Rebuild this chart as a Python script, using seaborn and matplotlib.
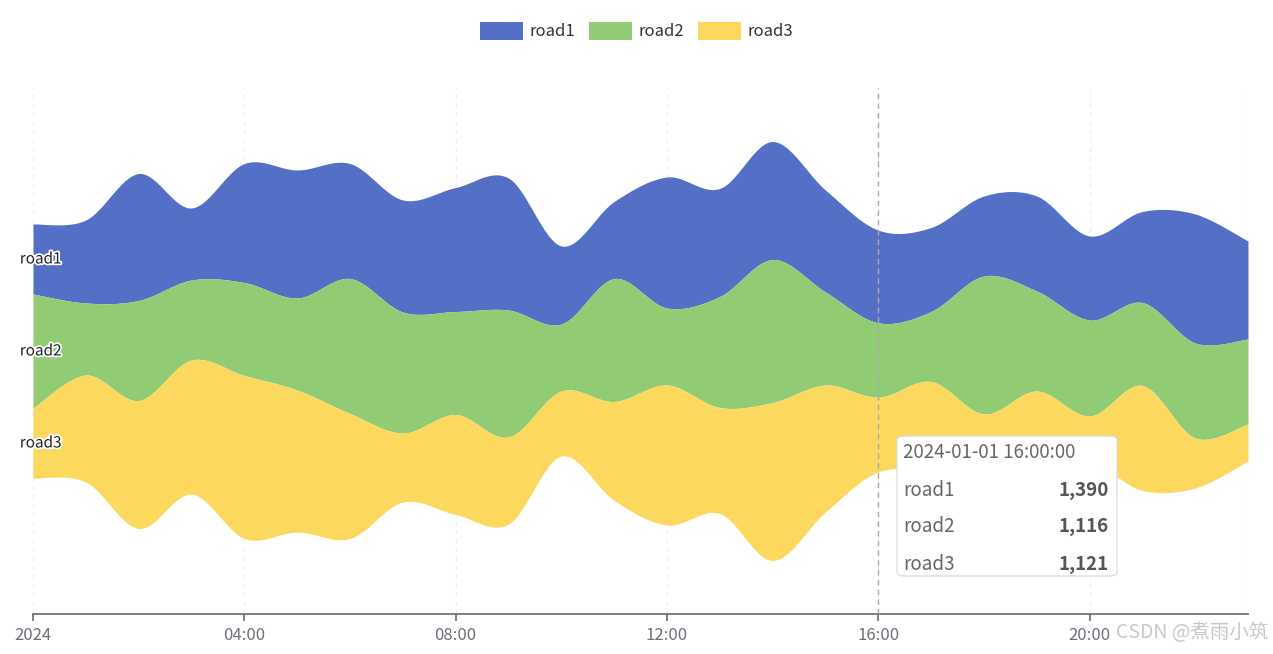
import numpy as np
import pandas as pd
import matplotlib.pyplot as plt
import seaborn as sns
from matplotlib.patches import Patch

sns.set_theme(style='white')
plt.rcParams['font.family'] = ['Noto Sans CJK SC', 'DejaVu Sans']

# 每小时数据 (2024-01-01 00:00 ~ 23:00)
hours = list(range(24))
road1 = [1050, 1245, 1905, 1080, 1785, 1920, 1725, 1680, 1860, 1980, 1170, 1155,
         1965, 1620, 1770, 1530, 1390, 1260, 1200, 1425, 1260, 1365, 1935, 1470]
road2 = [1710, 1080, 1500, 1200, 1395, 1380, 2025, 1815, 1545, 1905, 1005, 1845,
         1155, 1665, 2145, 1395, 1116, 1050, 2070, 1500, 1440, 1245, 1425, 1275]
road3 = [1050, 1605, 1920, 2010, 2445, 2130, 1875, 1035, 1500, 1305, 975, 1485,
         2100, 1590, 2370, 1905, 1121, 1395, 1380, 1725, 750, 1575, 750, 555]
series_names = ['road1', 'road2', 'road3']
colors = ['#5470c6', '#91cc75', '#fdd85e']
tick_hours = [0, 4, 8, 12, 16, 20]
tick_labels = ['2024', '04:00', '08:00', '12:00', '16:00', '20:00']

df = pd.DataFrame({'hour': hours, 'road1': road1, 'road2': road2, 'road3': road3})


def smooth(x, y, n=20):
    # Catmull-Rom 平滑
    x = np.asarray(x, float); y = np.asarray(y, float)
    px = np.concatenate([[x[0]], x, [x[-1]]])
    py = np.concatenate([[y[0]], y, [y[-1]]])
    xs, ys = [], []
    for i in range(1, len(px) - 2):
        t = np.linspace(0, 1, n, endpoint=False)
        for arr, out in ((px, xs), (py, ys)):
            p0, p1, p2, p3 = arr[i - 1], arr[i], arr[i + 1], arr[i + 2]
            out.append(0.5 * ((2 * p1) + (-p0 + p2) * t + (2 * p0 - 5 * p1 + 4 * p2 - p3) * t ** 2
                              + (-p0 + 3 * p1 - 3 * p2 + p3) * t ** 3))
    xs.append([x[-1]]); ys.append([y[-1]])
    return np.concatenate(xs), np.concatenate(ys)


vals = df[series_names].to_numpy(float)
total = vals.sum(axis=1)
top = total / 2
bounds = [top]
for k in range(3):
    bounds.append(bounds[-1] - vals[:, k])

fig = plt.figure(figsize=(12.73, 6.54), dpi=100)
ax = fig.add_axes([33 / 1273, 40 / 654, 1215 / 1273, 526 / 654])

for h in tick_hours + [23]:
    ax.axvline(h, color='#eeeeee', lw=0.8, ls=(0, (4, 4)), zorder=0)

for k in range(3):
    xs, yu = smooth(df['hour'], bounds[k])
    _, yl = smooth(df['hour'], bounds[k + 1])
    ax.fill_between(xs, yl, yu, color=colors[k], lw=0, zorder=2)
    ax.text(-0.25, (bounds[k][0] + bounds[k + 1][0]) / 2, series_names[k], fontsize=11,
            color='#222222', va='center', ha='left', zorder=5,
            path_effects=[__import__('matplotlib.patheffects', fromlist=['x']).withStroke(linewidth=2.5, foreground='white')])

ax.set_xlim(0, 23)
ax.set_ylim(-3945, 3945)
ax.set_yticks([])
ax.set_xticks(tick_hours)
ax.set_xticklabels(tick_labels, color='#6e7079', fontsize=12)
ax.tick_params(axis='x', length=5, color='#6e7079', bottom=True, pad=4)
for s in ['top', 'left', 'right']:
    ax.spines[s].set_visible(False)
ax.spines['bottom'].set_color('#6e7079')

# 16:00 指示线与提示框
ax.axvline(16, color='#aaaaaa', lw=1, ls=(0, (4, 3)), zorder=4)
tip = 'road1\nroad2\nroad3'
fig.patches.append(plt.matplotlib.patches.FancyBboxPatch(
    (897 / 1273, (654 - 576) / 654), 220 / 1273, 140 / 654, transform=fig.transFigure,
    boxstyle='round,pad=0,rounding_size=0.006', fc='white', ec='#dddddd', lw=1, zorder=10))
fig.text(903 / 1273, 1 - 453 / 654, '2024-01-01 16:00:00', fontsize=13.5, color='#666666', va='center', zorder=11)
for i, name in enumerate(series_names):
    y = 1 - (490 + 37 * i) / 654
    fig.text(903 / 1273, y, name, fontsize=13.5, color='#666666', va='center', zorder=11)
    fig.text(1109 / 1273, y, f'{int(vals[16, i]):,}', fontsize=13.5, color='#555555',
             fontweight='bold', va='center', ha='right', zorder=11)

handles = [Patch(facecolor=c, edgecolor='none') for c in colors]
fig.legend(handles, series_names, loc='center', bbox_to_anchor=(0.5, 1 - 31 / 654), ncol=3,
           frameon=False, fontsize=12, handlelength=2.6, handleheight=1.3, columnspacing=0.8,
           handletextpad=0.4, labelcolor='#333333')

fig.text(1268 / 1273, 1 - 632 / 654, 'CSDN @煮雨小筑', fontsize=14, color='#bbbbbb',
         ha='right', va='center', alpha=0.8)

plt.savefig('out.png', dpi=100)
